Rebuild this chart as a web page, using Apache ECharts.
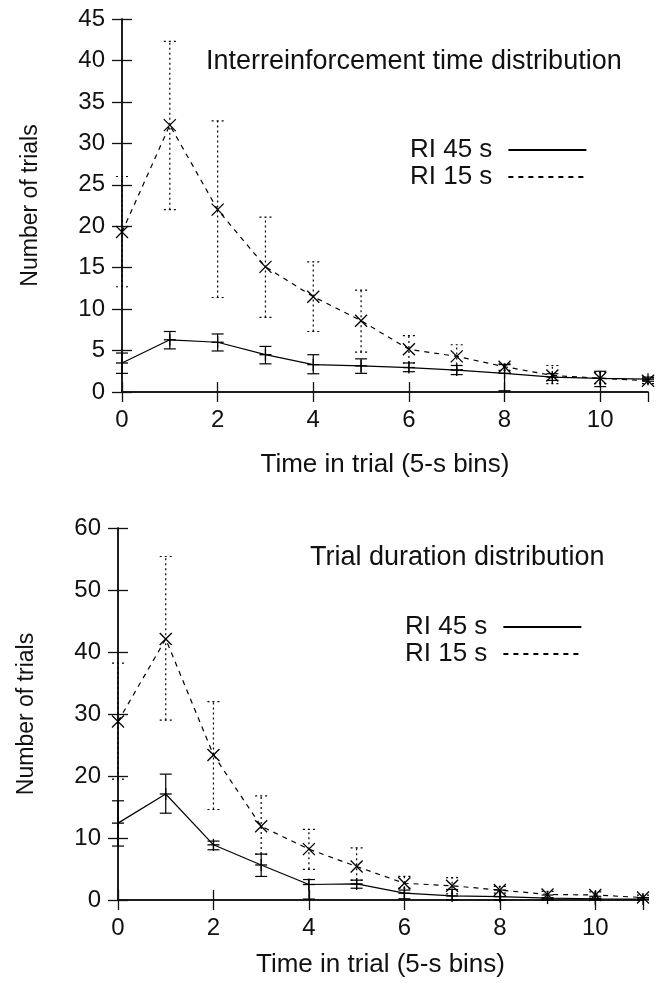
<!DOCTYPE html>
<html><head><meta charset="utf-8">
<script src="https://cdn.jsdelivr.net/npm/echarts@6/dist/echarts.min.js"></script>
<style>html,body{margin:0;padding:0;background:#fff}#c{width:658px;height:983px}</style>
</head><body><div id="c"></div>
<script>
// ---- data ----
const bins = [0,1,2,3,4,5,6,7,8,9,10,11];
const seriesNames = ['RI 45 s','RI 15 s'];
const topTitle = 'Interreinforcement time distribution';
const bottomTitle = 'Trial duration distribution';
const xAxisTitle = 'Time in trial (5-s bins)';
const yAxisTitle = 'Number of trials';

// Interreinforcement time distribution (top)
const iriRI45     = [3.5, 6.3, 6.0, 4.5, 3.3, 3.15, 2.95, 2.65, 2.25, 1.8, 1.65, 1.55];
const iriRI45Low  = [2.25,5.2, 4.95,3.4, 2.2, 2.25, 2.45, 2.1, 0.15, 1.4, 0.65, 1.3];
const iriRI45High = [4.7, 7.3, 7.0, 5.5, 4.5, 4.0, 3.5, 3.2, 3.3, 2.2, 2.5, 1.8];
const iriRI15     = [19.3,32.2,22.0,15.1,11.5,8.6, 5.15,4.3, 3.05,2.0, 1.65,1.35];
const iriRI15Low  = [12.7,22.0,11.4,9.0, 7.3, 4.8, 3.5, 2.7, 2.6, 1.0, 1.0, 1.0];
const iriRI15High = [26.0,42.3,32.7,21.1,15.7,12.3,6.8, 5.7, 3.4, 3.2, 2.4, 1.7];

// Trial duration distribution (bottom)
const durRI45     = [12.4,17.1,8.9, 5.65,2.5, 2.6, 1.1, 0.65,0.55,0.3, 0.2, 0.15];
const durRI45Low  = [8.7, 14.0,8.1, 3.8, 0.15,1.9, 0.2, 0.0, 0.0, 0.0, 0.0, 0.0];
const durRI45High = [16.0,20.3,9.5, 7.4, 3.3, 3.2, 1.6, 1.7, 1.6, 0.8, 0.6, 0.4];
const durRI15     = [28.8,42.1,23.4,11.9,8.2, 5.4, 2.7, 2.3, 1.6, 0.9, 0.8, 0.4];
const durRI15Low  = [19.5,29.0,14.6,7.4, 4.95,3.2, 1.9, 1.0, 1.1, 0.4, 0.3, 0.1];
const durRI15High = [38.2,55.4,32.0,16.8,11.4,8.4, 3.8, 3.6, 2.2, 1.4, 1.3, 0.8];

const topYMax = 45, topYStep = 5;
const botYMax = 60, botYStep = 10;
const xMax = 11, xStep = 2;

// ---- chart ----
const FONT = 'Liberation Sans';
const chart = echarts.init(document.getElementById('c'), null, {renderer:'canvas'});

function pairs(xs, ys){ return xs.map((x,i)=>[x, ys[i]]); }
function errData(lo, hi, m){ return bins.map((x,i)=>[x, lo[i], hi[i], m[i]]); }

function errRender(kind){
  return function(params, api){
    const x = api.value(0), lo = api.value(1), hi = api.value(2), m = api.value(3);
    const a = api.coord([x, lo]), b = api.coord([x, hi]), c = api.coord([x, m]);
    const cw = 6, ms = 6;
    const dash = kind === 'RI15' ? [2,3] : null;
    const bs = {stroke:'#000', lineWidth:1.2, lineDash:dash, fill:null};
    const ks = {stroke:'#000', lineWidth:1.3, fill:null};
    const ch = [
      {type:'line', shape:{x1:a[0],y1:a[1],x2:b[0],y2:b[1]}, style:bs},
      {type:'line', shape:{x1:a[0]-cw,y1:a[1],x2:a[0]+cw,y2:a[1]}, style:bs},
      {type:'line', shape:{x1:b[0]-cw,y1:b[1],x2:b[0]+cw,y2:b[1]}, style:bs}
    ];
    if (kind === 'RI15') {
      ch.push({type:'line', shape:{x1:c[0]-ms,y1:c[1]-ms,x2:c[0]+ms,y2:c[1]+ms}, style:ks});
      ch.push({type:'line', shape:{x1:c[0]-ms,y1:c[1]+ms,x2:c[0]+ms,y2:c[1]-ms}, style:ks});
    } else {
      ch.push({type:'line', shape:{x1:c[0]-ms,y1:c[1],x2:c[0]+ms,y2:c[1]}, style:ks});
      ch.push({type:'line', shape:{x1:c[0],y1:c[1]-ms,x2:c[0],y2:c[1]+ms}, style:ks});
    }
    return {type:'group', children:ch};
  };
}

const axisLine = {show:true, lineStyle:{color:'#111', width:1.5}};
const tickIn = {show:true, inside:true, length:10, lineStyle:{color:'#111', width:1.3}};
const labelStyle = {fontFamily:FONT, fontSize:24, color:'#111'};

function xAxes(gi, gap){
  return [
    {type:'value', gridIndex:gi, min:0, max:xMax, interval:xStep, position:'bottom',
     axisLine, axisTick:tickIn, splitLine:{show:false},
     axisLabel:Object.assign({margin:16, showMaxLabel:false}, labelStyle),
     name:xAxisTitle, nameLocation:'middle', nameGap:gap,
     nameTextStyle:{fontFamily:FONT, fontSize:26, color:'#111'}},
    {type:'value', gridIndex:gi, min:0, max:xMax, interval:xStep, position:'top',
     axisLine, axisTick:tickIn, splitLine:{show:false}, axisLabel:{show:false}}
  ];
}
function yAxes(gi, ymax, step){
  return [
    {type:'value', gridIndex:gi, min:0, max:ymax, interval:step, position:'left',
     axisLine, axisTick:tickIn, splitLine:{show:false},
     axisLabel:Object.assign({margin:17}, labelStyle),
     name:yAxisTitle, nameLocation:'middle', nameGap:80,
     nameTextStyle:{fontFamily:FONT, fontSize:23, color:'#111'}},
    {type:'value', gridIndex:gi, min:0, max:ymax, interval:step, position:'right',
     axisLine, axisTick:tickIn, splitLine:{show:false}, axisLabel:{show:false}}
  ];
}

function lineSeries(name, xi, yi, data, dashed){
  return {type:'line', name, xAxisIndex:xi, yAxisIndex:yi, data, symbol:'none',
    lineStyle:{color:'#000', width:1.2, type: dashed ? [5,5] : 'solid'},
    itemStyle:{color:'#000'}, animation:false, silent:true, z:3};
}
function errSeries(name, xi, yi, data, kind){
  return {type:'custom', name, xAxisIndex:xi, yAxisIndex:yi, data,
    encode:{x:0, y:[1,2,3]}, renderItem:errRender(kind), animation:false, silent:true, z:4};
}

const legendCommon = {orient:'vertical', align:'right', itemWidth:78, itemHeight:14, itemGap:1,
  selectedMode:false, data:seriesNames,
  itemStyle:{opacity:0, borderWidth:0},
  textStyle:{fontFamily:FONT, fontSize:26, color:'#111', padding:[0,11,0,0]}};

chart.setOption({
  animation:false,
  backgroundColor:'#fff',
  title:[
    {text:topTitle, left:206, top:48, padding:0,
     textStyle:{fontFamily:FONT, fontSize:27, fontWeight:'normal', color:'#111'}},
    {text:bottomTitle, left:310, top:544, padding:0,
     textStyle:{fontFamily:FONT, fontSize:27, fontWeight:'normal', color:'#111'}}
  ],
  legend:[
    Object.assign({left:405, top:132}, legendCommon),
    Object.assign({left:400, top:609}, legendCommon)
  ],
  grid:[
    {left:122, top:19, width:526, height:373},
    {left:118, top:528, width:525, height:372}
  ],
  xAxis:[].concat(xAxes(0, 60), xAxes(1, 52)),
  yAxis:[].concat(yAxes(0, topYMax, topYStep), yAxes(1, botYMax, botYStep)),
  series:[
    lineSeries(seriesNames[0], 0, 0, pairs(bins, iriRI45), false),
    lineSeries(seriesNames[1], 0, 0, pairs(bins, iriRI15), true),
    errSeries(seriesNames[0], 0, 0, errData(iriRI45Low, iriRI45High, iriRI45), 'RI45'),
    errSeries(seriesNames[1], 0, 0, errData(iriRI15Low, iriRI15High, iriRI15), 'RI15'),
    lineSeries(seriesNames[0], 2, 2, pairs(bins, durRI45), false),
    lineSeries(seriesNames[1], 2, 2, pairs(bins, durRI15), true),
    errSeries(seriesNames[0], 2, 2, errData(durRI45Low, durRI45High, durRI45), 'RI45'),
    errSeries(seriesNames[1], 2, 2, errData(durRI15Low, durRI15High, durRI15), 'RI15')
  ]
});
</script></body></html>
